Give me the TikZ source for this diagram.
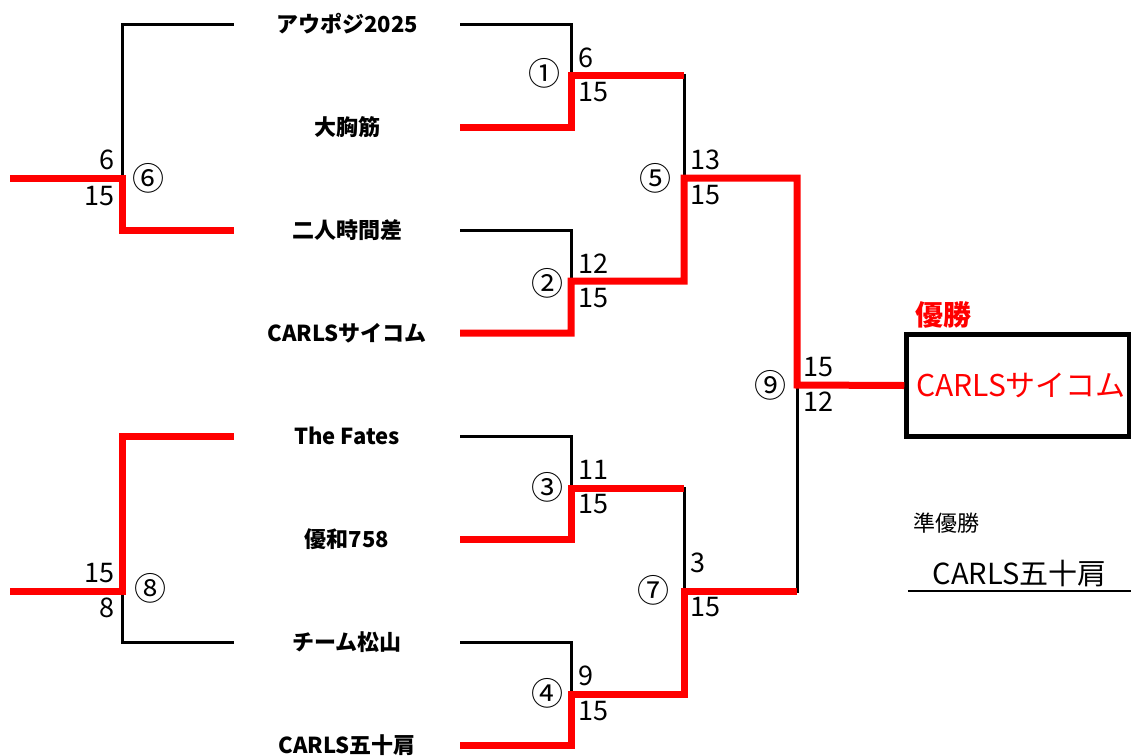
\documentclass[tikz,border=0pt]{standalone}
\usepackage{fontspec}
\setmainfont{Noto Sans CJK JP}
\usetikzlibrary{positioning}
\definecolor{winred}{RGB}{255,0,0}

\begin{document}
\begin{tikzpicture}[x=1pt,y=-1pt,
    team/.style={font=\fontsize{22}{25}\selectfont\bfseries, minimum width=226pt, inner sep=0pt},
    score/.style={font=\fontsize{27}{29}\selectfont, inner sep=0pt},
    gamenum/.style={font=\fontsize{32}{34}\selectfont, inner sep=0pt},
    lose/.style={line width=3pt},
    win/.style={line width=7pt, color=winred}]
  \useasboundingbox (0,0) rectangle (1131,755);
  \begin{scope}[every node/.style={team}]
    \node (t1) at (347,24) {アウポジ2025};
    \node (t2) at (347,127) {大胸筋};
    \node (t3) at (347,230) {二人時間差};
    \node (t4) at (347,333) {CARLSサイコム};
    \node (t5) at (347,436) {The Fates};
    \node (t6) at (347,539) {優和758};
    \node (t7) at (347,642) {チーム松山};
    \node (t8) at (347,745) {CARLS五十肩};
  \end{scope}
  \coordinate (m1) at (571,75);
  \coordinate (m2) at (571,281);
  \coordinate (m3) at (571,488);
  \coordinate (m4) at (571,694);
  \coordinate (m5) at (684,178);
  \coordinate (m7) at (684,591);
  \coordinate (m9) at (797,385);
  \coordinate (m6) at (122,178);
  \coordinate (m8) at (122,591);
  \coordinate (w6) at (10,178);
  \coordinate (w8) at (10,591);
  \node (champ) [draw, line width=5pt, minimum width=221pt, minimum height=102pt,
    text=winred, font=\fontsize{30}{33}\selectfont] at (1018,385.5) {\hspace{6pt}CARLSサイコム};
  \node (champlbl) [text=winred, font=\fontsize{28}{30}\selectfont\bfseries] at (943,315) {優勝};
  \node (rulbl) [font=\fontsize{22}{24}\selectfont] at (946,523) {準優勝};
  \node (ru) [anchor=south, minimum width=223pt, minimum height=34pt, inner sep=0pt,
    font=\fontsize{29}{32}\selectfont] at (1019.5,591) {CARLS五十肩};
  \draw [line width=2.5pt] (ru.south west) -- (ru.south east);
  % losers
  \begin{scope}[lose]
    \draw (t1.east) -| (m1);
    \draw (t3.east) -| (m2);
    \draw (t5.east) -| (m3);
    \draw (t7.east) -| (m4);
    \draw (m1) -| (m5);
    \draw (m3) -| (m7);
    \draw (m7) -| (m9);
    \draw (t1.west) -| (m6);
    \draw (t7.west) -| (m8);
  \end{scope}
  % winners
  \begin{scope}[win]
    \draw (t2.east) -| (m1) -- (m1 -| m5);
    \draw (t4.east) -| (m2) -| (m5) -| (m9) -- (champ.west);
    \draw (t6.east) -| (m3) -- (m3 -| m7);
    \draw (t8.east) -| (m4) -| (m7) -- (m7 -| m9);
    \draw (t3.west) -| (m6) -- (w6);
    \draw (t5.west) -| (m8) -- (w8);
  \end{scope}
  % scores
  \begin{scope}[every node/.style={score, anchor=west}]
    \node (s1a) at (578,58) {6};
    \node (s1b) at (578,92) {15};
    \node (s2a) at (578,264) {12};
    \node (s2b) at (578,298) {15};
    \node (s3a) at (578,470) {11};
    \node (s3b) at (578,504) {15};
    \node (s4a) at (578,676) {9};
    \node (s4b) at (578,711) {15};
    \node (s5a) at (690,160) {13};
    \node (s5b) at (690,195) {15};
    \node (s7a) at (690,563) {3};
    \node (s7b) at (690,607) {15};
    \node (s9a) at (803,367) {15};
    \node (s9b) at (803,402) {12};
  \end{scope}
  \begin{scope}[every node/.style={score, anchor=east}]
    \node (s6a) at (115,160) {6};
    \node (s6b) at (115,196) {15};
    \node (s8a) at (115,573) {15};
    \node (s8b) at (115,608) {8};
  \end{scope}
  \begin{scope}[every node/.style={gamenum}]
    \node (g1) at (544,73) {①};
    \node (g2) at (547,283) {②};
    \node (g3) at (547,487) {③};
    \node (g4) at (547,693) {④};
    \node (g5) at (655,178) {⑤};
    \node (g6) at (148,178) {⑥};
    \node (g7) at (653,590) {⑦};
    \node (g8) at (150,588) {⑧};
    \node (g9) at (770,385) {⑨};
  \end{scope}
\end{tikzpicture}
\end{document}
